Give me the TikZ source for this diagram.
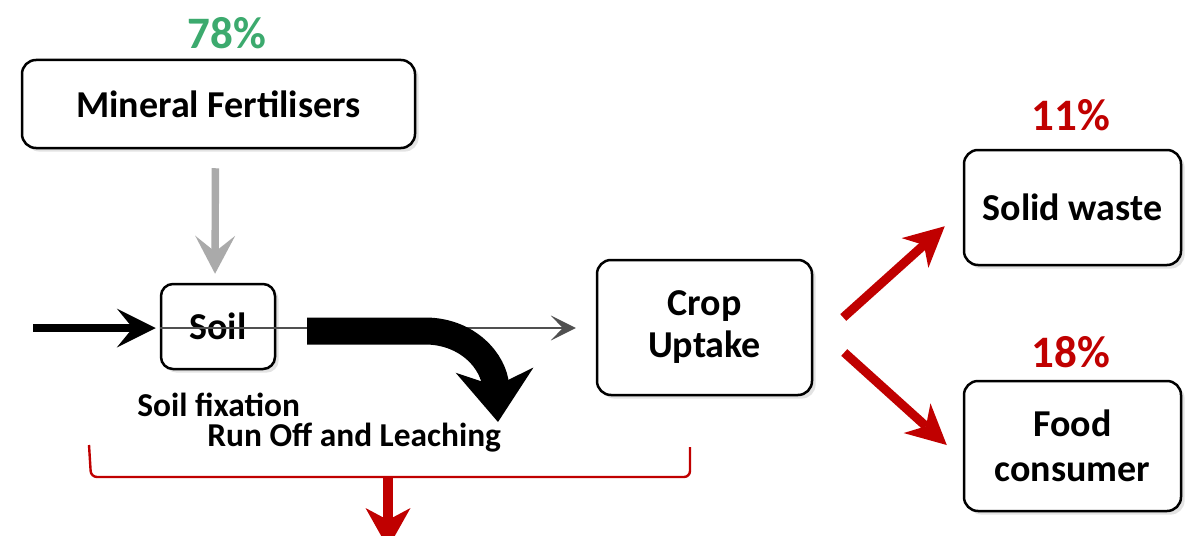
\documentclass[tikz,border=0pt]{standalone}
\usepackage{fontspec}
\setmainfont{Carlito}
\usetikzlibrary{arrows.meta,shadows,calc}
\definecolor{pctgreen}{RGB}{60,170,110}
\definecolor{flowred}{RGB}{192,0,0}
\definecolor{feedgray}{RGB}{170,170,170}
\definecolor{thinline}{RGB}{80,80,80}
\begin{document}
\begin{tikzpicture}[x=0.5pt,y=-0.5pt,
  box/.style={draw=black, line width=1.25pt, rounded corners=7pt, fill=white,
    align=center, inner sep=0pt, font=\fontsize{19}{21}\selectfont\bfseries,
    drop shadow={shadow xshift=1.8pt, shadow yshift=-1.8pt, opacity=0.22}},
  pct/.style={font=\fontsize{22.5}{26}\selectfont\bfseries, inner sep=0pt},
  lbl/.style={font=\fontsize{16.7}{19}\selectfont\bfseries, inner sep=0pt},
  redarrow/.style={flowred, line width=4.5pt,
    -{Stealth[length=20pt,width=20pt,inset=6pt,line width=0pt]}},
]
\clip (0,0) rectangle (1193,535);
\fill[white] (0,0) rectangle (1193,535);

% boxes
\node[box, minimum width=196.5pt, minimum height=44pt] (fert) at (218.5,104) {Mineral Fertilisers};
\node[box, minimum width=57pt, minimum height=42.5pt, rounded corners=6pt] (soil) at (218,326.5) {Soil};
\node[box, minimum width=107.5pt, minimum height=67.5pt] (crop) at (704.5,327.5) {Crop\\Uptake};
\node[box, minimum width=108.5pt, minimum height=57.5pt] (waste) at (1072.5,207.5) {Solid waste};
\node[box, minimum width=108.5pt, minimum height=65pt, font=\fontsize{19}{22.5}\selectfont\bfseries] (food) at (1072.5,446) {Food\\consumer};

% percentages
\node[pct, text=pctgreen] (p78) at (227,33) {78\%};
\node[pct, text=flowred] (p11) at (1071,115) {11\%};
\node[pct, text=flowred] (p18) at (1071,352) {18\%};

% loss labels
\node[lbl, anchor=base west] (fix) at (137,416) {Soil fixation};
\node[lbl, anchor=base west] (runoff) at (207,446) {Run Off and Leaching};

% fertiliser input
\draw[feedgray, line width=3.7pt,
  -{Stealth[length=19pt,width=20pt,inset=8pt,line width=0pt]},
  shorten <=9.5pt, shorten >=4.5pt]
  ($(fert.south)+(-3,0)$) -- ($(soil.north)+(-3,0)$);

% inflow to soil
\coordinate (src) at (33,328);
\draw[line width=4pt, -{Stealth[length=19.5pt,width=19.5pt,inset=8pt,line width=0pt]},
  shorten >=2pt] (src) -- (src -| soil.west);

% soil to crop uptake
\draw[thinline, line width=0.75pt,
  -{Stealth[length=12.5pt,width=12.5pt,inset=6pt,line width=0pt]}, shorten >=10pt]
  (src -| soil.west) -- (src -| crop.west);

% run off and leaching
\coordinate (ro1) at (307,331);
\coordinate (ro2) at (498,422);
\draw[line width=13.5pt, -{Stealth[length=26pt,width=39pt,inset=8pt,line width=0pt]}]
  (ro1) -- (425,331) .. controls (468,331) and (494,362) .. (ro2);

% outputs of crop uptake
\coordinate (u1) at ($(crop.east)+(30,-10)$);
\coordinate (u2) at ($(waste.south west)+(-18,-40)$);
\coordinate (d1) at ($(crop.east)+(31,25)$);
\coordinate (d2) at ($(food.west)+(-16,-1)$);
\draw[redarrow] (u1) -- (u2);
\draw[redarrow] (d1) -- (d2);

% losses bracket
\draw[flowred, line width=1.2pt, rounded corners=3pt]
  (89,445) -- (91,477) -- (690,477) -- (690,447);
\coordinate (b1) at (388,477);
\coordinate (b2) at (388,548);
\draw[flowred, line width=5pt,
  -{Stealth[length=20pt,width=22.5pt,inset=6pt,line width=0pt]}] (b1) -- (b2);
\end{tikzpicture}
\end{document}
